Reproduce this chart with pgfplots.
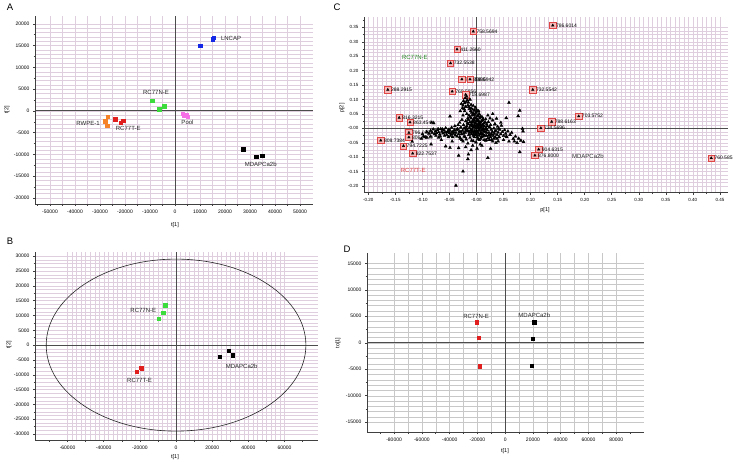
\documentclass[border=0pt]{standalone}
\usepackage{fontspec}
\setmainfont{Liberation Sans}
\usepackage{pgfplots}
\pgfplotsset{compat=1.18}
\usepackage{pgfplotstable}
\definecolor{gridc}{RGB}{222,206,222}
\definecolor{gridd}{RGB}{200,200,200}
\definecolor{cblue}{RGB}{20,40,230}
\definecolor{cgreen}{RGB}{60,220,60}
\definecolor{cred}{RGB}{225,30,30}
\definecolor{corange}{RGB}{245,130,40}
\definecolor{cpink}{RGB}{245,110,230}
\definecolor{boxfill}{RGB}{245,185,185}
\definecolor{boxred}{RGB}{225,70,70}
\definecolor{labgreen}{RGB}{40,140,40}
\definecolor{labred}{RGB}{230,70,70}
\newcommand{\fs}[1]{\fontsize{#1}{#1}\selectfont}
\tikzset{zeroline/.style={black!70, line width=0.9pt}}
\pgfplotsset{
  panel/.style={
    scale only axis, anchor=south west, scaled ticks=false,
    axis x line*=bottom, axis y line*=left,
    axis line style={-, line width=0.8pt, black!75},
    tick align=outside, major tick length=2pt, minor tick length=0pt,
    tick style={black!75, line width=0.5pt},
    grid=both,
    major grid style={gridc, line width=0.35pt},
    minor grid style={gridc, line width=0.35pt},
    ticklabel style={font=\fs{5}},
    /pgf/number format/assume math mode=true,
    extra tick style={grid=none, major tick length=1.5pt},
    extra x tick labels={}, extra y tick labels={},
  },
  sq/.style={only marks, mark=square*, mark size=1.7pt},
}
\pgfplotstableread{
x y lab
0.141 0.357 786.6014
-0.006 0.336 758.5694
-0.036 0.274 411.2660
-0.048 0.226 732.5538
-0.027 0.170 782.5696
-0.012 0.170 808.5942
-0.164 0.134 288.2915
-0.045 0.128 760.5856
-0.020 0.117 718.6987
0.104 0.134 732.5542
0.189 0.042 703.5752
0.139 0.023 788.6163
0.119 0.001 734.5696
0.115 -0.073 904.6315
0.108 -0.094 876.8000
0.434 -0.103 760.5851
-0.143 0.037 816.3215
-0.123 0.021 863.4544
-0.125 -0.015 796.0388
-0.125 -0.031 806.7399
-0.177 -0.042 808.7384
-0.135 -0.061 794.7225
-0.118 -0.087 822.7537
}\Clab
\begin{document}
\begin{tikzpicture}
% ---------------- Panel A ----------------
\begin{axis}[panel, at={(35pt,-204pt)}, width=278pt, height=188pt,
  xmin=-56000, xmax=55200, ymin=-21400, ymax=21800,
  xtick={-50000,-40000,...,50000},
  xticklabels={-50000,-40000,-30000,-20000,-10000,0,10000,20000,30000,40000,50000},
  ytick={-20000,-15000,...,20000},
  yticklabels={-20000,-15000,-10000,-5000,0,5000,10000,15000,20000},
  minor x tick num=1, minor y tick num=4,
  extra x ticks={-55000,-45000,-35000,-25000,-15000,-5000,5000,15000,25000,35000,45000},
  extra y ticks={-17500,-12500,-7500,-2500,2500,7500,12500,17500},
]
\draw[zeroline] (axis cs:0,-21400) -- (axis cs:0,21800);
\draw[zeroline] (axis cs:-56000,0) -- (axis cs:55200,0);
\addplot[sq, cblue] coordinates {(10000,15000) (15100,16450) (15400,16850)};
\addplot[sq, cgreen] coordinates {(-9200,2400) (-6300,400) (-4400,1100)};
\addplot[sq, cred] coordinates {(-24000,-1950) (-21700,-2700) (-20800,-2250)};
\addplot[sq, corange] coordinates {(-26900,-1350) (-27900,-2400) (-27100,-3350)};
\addplot[sq, cpink] coordinates {(3100,-600) (3700,-950) (4400,-900) (5000,-1300)};
\addplot[sq, black] coordinates {(27300,-8800) (32400,-10500) (34900,-10300)};
\node[font=\fs{6}, anchor=west, black!85] at (axis cs:17000,16700) {LNCAP};
\node[font=\fs{6}, black!85] at (axis cs:-7600,4200) {RC77N-E};
\node[font=\fs{6}, black!85] at (axis cs:-34800,-2850) {RWPE-1};
\node[font=\fs{6}, black!85] at (axis cs:-18700,-4000) {RC77T-E};
\node[font=\fs{6}, black!85] at (axis cs:5000,-2600) {Pool};
\node[font=\fs{6}, black!85] at (axis cs:34300,-12400) {MDAPCa2b};
\end{axis}
\node[font=\fs{5.5}] at (175pt,-225pt) {t[1]};
\node[font=\fs{5.5}, rotate=90] at (7pt,-110pt) {t[2]};
\node[font=\fs{9.5}] at (10pt,-7pt) {A};

% ---------------- Panel C ----------------
\begin{axis}[panel, at={(364pt,-192.7pt)}, width=364pt, height=175.4pt,
  xmin=-0.208, xmax=0.465, ymin=-0.223, ymax=0.385, clip=false,
  xtick={-0.20,-0.15,...,0.46},
  xticklabels={-0.20,-0.15,-0.10,-0.05,-0.00,0.05,0.10,0.15,0.20,0.25,0.30,0.35,0.40,0.45},
  ytick={-0.20,-0.15,...,0.36},
  yticklabels={-0.20,-0.15,-0.10,-0.05,-0.00,0.05,0.10,0.15,0.20,0.25,0.30,0.35},
  ticklabel style={font=\fs{4.5}},
  minor x tick num=5, minor y tick num=3,
  extra x ticks={-0.175,-0.125,-0.075,-0.025,0.025,0.075,0.125,0.175,0.225,0.275,0.325,0.375,0.425},
  extra y ticks={-0.175,-0.125,-0.075,-0.025,0.025,0.075,0.125,0.175,0.225,0.275,0.325,0.375},
]
\draw[zeroline] (axis cs:0,-0.223) -- (axis cs:0,0.385);
\draw[zeroline] (axis cs:-0.208,0) -- (axis cs:0.465,0);
\addplot[only marks, mark=square*, mark size=3.2pt,
  mark options={fill=boxfill, draw=boxred, line width=0.5pt},
  nodes near coords, point meta=explicit symbolic,
  nodes near coords style={anchor=west, font=\fs{5}, xshift=3pt, inner sep=0pt, black}]
  table[x=x, y=y, meta=lab] {\Clab};
\addplot[only marks, mark=triangle*, mark size=1.4pt, black] table[x=x, y=y] {\Clab};
\addplot[only marks, mark=triangle*, mark size=1.7pt, black] coordinates {
(-0.092,-0.012) (-0.088,-0.018) (-0.085,-0.008) (-0.082,-0.015) (-0.080,-0.003) (-0.078,-0.020)
(-0.076,-0.010) (-0.074,-0.016) (-0.072,-0.006) (-0.070,-0.013) (-0.068,-0.021) (-0.066,-0.002)
(-0.064,-0.011) (-0.062,-0.017) (-0.060,-0.007) (-0.058,-0.014) (-0.057,0.001) (-0.055,-0.022)
(-0.053,-0.009) (-0.051,-0.004) (-0.050,-0.016) (-0.048,-0.026) (-0.046,0.003) (-0.045,-0.012)
(-0.043,-0.019) (-0.041,-0.006) (-0.040,0.008) (-0.038,-0.015) (-0.036,-0.028) (-0.035,-0.002)
(-0.034,0.012) (-0.032,-0.010) (-0.031,0.020) (-0.030,-0.035) (-0.029,0.004) (-0.028,-0.020)
(-0.027,0.030) (-0.026,-0.008) (-0.025,0.045) (-0.025,-0.045) (-0.024,0.012) (-0.023,-0.028)
(-0.022,0.060) (-0.022,0.000) (-0.021,-0.015) (-0.020,0.025) (-0.020,0.075) (-0.019,-0.038)
(-0.018,0.008) (-0.018,0.050) (-0.017,-0.005) (-0.016,0.035) (-0.016,-0.052) (-0.015,0.090)
(-0.015,0.015) (-0.014,-0.022) (-0.013,0.068) (-0.013,0.002) (-0.012,0.040) (-0.012,-0.032)
(-0.011,0.010) (-0.010,0.082) (-0.010,-0.012) (-0.009,0.055) (-0.009,-0.042) (-0.008,0.022)
(-0.008,-0.003) (-0.007,0.065) (-0.007,-0.060) (-0.006,0.030) (-0.006,0.005) (-0.005,-0.018)
(-0.005,0.048) (-0.004,0.012) (-0.004,-0.030) (-0.003,0.038) (-0.003,-0.008) (-0.002,0.072)
(-0.002,0.018) (-0.001,-0.048) (-0.001,0.000) (0.000,0.028) (0.000,-0.022) (0.001,0.058)
(0.001,0.008) (0.002,-0.012) (0.002,0.042) (0.003,-0.036) (0.003,0.015) (0.004,0.002)
(0.004,0.025) (0.005,-0.025) (0.005,0.050) (0.006,-0.005) (0.006,0.035) (0.007,0.010)
(0.007,-0.055) (0.008,-0.015) (0.008,0.020) (0.009,0.003) (0.009,-0.030) (0.010,0.040)
(0.010,-0.008) (0.011,0.012) (0.012,-0.020) (0.012,0.028) (0.013,-0.002) (0.014,-0.040)
(0.014,0.018) (0.015,0.006) (0.016,-0.012) (0.017,0.032) (0.018,-0.025) (0.018,0.000)
(0.019,0.014) (0.020,-0.006) (0.021,-0.034) (0.022,0.022) (0.023,-0.015) (0.024,0.005)
(0.025,-0.022) (0.026,0.012) (0.027,-0.004) (0.028,-0.040) (0.029,-0.012) (0.030,0.028)
(0.031,-0.026) (0.032,0.000) (0.033,-0.018) (0.034,0.015) (0.035,-0.032) (0.036,-0.008)
(0.038,-0.022) (0.039,0.006) (0.040,-0.014) (0.042,-0.030) (0.043,-0.004) (0.045,-0.020)
(0.046,0.010) (0.048,-0.012) (0.050,-0.026) (0.052,-0.006) (0.054,-0.018) (0.056,-0.030)
(0.058,-0.010) (0.062,-0.022)
(-0.028,0.085) (-0.024,0.095) (-0.021,0.105) (-0.018,0.110) (-0.017,0.098) (-0.012,0.100)
(-0.026,0.070) (-0.030,0.060)
(-0.084,-0.055) (-0.119,-0.046) (-0.085,-0.028) (-0.079,0.018) (-0.057,-0.062) (-0.049,-0.067)
(-0.033,-0.068) (-0.065,-0.040) (-0.095,-0.030) (-0.070,-0.032) (-0.100,-0.020) (-0.098,-0.028)
(-0.092,-0.032) (-0.102,-0.035)
(-0.038,-0.198) (-0.025,-0.149) (-0.033,-0.094) (-0.015,-0.090) (-0.016,-0.106) (0.001,-0.070)
(0.021,-0.102) (0.026,-0.070) (0.017,-0.042) (-0.006,-0.044) (-0.045,-0.045) (-0.010,-0.075)
(0.010,-0.060) (-0.020,-0.065)
(0.060,0.089) (0.080,0.062) (0.077,0.043) (0.055,0.036) (0.085,-0.001) (0.086,-0.010)
(0.082,-0.042) (0.087,-0.047) (0.080,-0.082) (0.068,-0.036) (0.055,-0.028) (0.041,-0.001)
(0.037,0.034) (0.021,0.045) (0.034,0.014) (-0.049,0.042) (-0.083,0.020) (0.030,0.050)
(0.025,0.035) (0.045,0.020) (0.070,-0.045) (0.075,-0.050) (0.060,-0.045) (0.050,-0.040)
(0.065,-0.015) (0.072,-0.028) (0.078,-0.035)
(-0.019,0.002) (-0.017,0.018) (-0.016,-0.010) (-0.015,0.030) (-0.014,0.045) (-0.013,-0.015)
(-0.012,0.022) (-0.011,0.060) (-0.011,-0.006) (-0.010,0.035) (-0.009,0.015) (-0.009,-0.020)
(-0.008,0.045) (-0.008,0.008) (-0.007,-0.010) (-0.007,0.025) (-0.006,0.052) (-0.006,-0.025)
(-0.005,0.004) (-0.005,0.032) (-0.004,0.062) (-0.004,-0.012) (-0.003,0.020) (-0.003,0.048)
(-0.002,-0.020) (-0.002,0.006) (-0.001,0.035) (-0.001,0.055) (0.000,0.012) (0.000,-0.010)
(0.001,0.025) (0.001,-0.030) (0.002,0.000) (0.002,0.030) (0.003,-0.018) (0.003,0.045)
(0.004,0.010) (0.004,-0.008) (0.005,0.020) (0.005,-0.040) (0.006,0.015) (0.007,-0.020)
(0.007,0.040) (0.008,0.005) (0.008,-0.035) (0.009,0.025) (0.010,-0.018) (0.010,0.010)
(0.011,-0.004) (0.012,0.034) (0.012,-0.028) (0.013,0.010) (0.014,-0.010) (0.015,-0.025)
(0.016,0.022) (0.017,-0.002) (0.018,-0.040) (0.019,-0.015) (0.020,0.008) (0.022,-0.025)
(-0.075,-0.025) (-0.071,-0.002) (-0.067,-0.028) (-0.063,-0.003) (-0.059,-0.025) (-0.054,-0.013)
(-0.052,-0.030) (-0.049,-0.008) (-0.047,-0.020) (-0.044,-0.030) (-0.042,-0.013) (-0.039,-0.024)
(-0.037,-0.005) (-0.033,-0.020) (-0.031,-0.030) (-0.029,-0.012) (-0.027,-0.040) (-0.024,-0.018)
(-0.023,0.000) (-0.021,-0.030) (-0.020,-0.008)
(0.024,-0.040) (0.026,-0.030) (0.028,-0.020) (0.030,-0.045) (0.032,-0.035) (0.034,-0.010)
(0.036,-0.050) (0.038,-0.035) (0.040,-0.045)
(-0.025,0.080) (-0.022,0.088) (-0.019,0.092) (-0.016,0.080) (-0.014,0.075) (-0.010,0.070)
(-0.006,0.078) (-0.023,0.068) (0.000,0.065) (0.004,0.060)
};
\node[font=\fs{6}, labgreen] at (axis cs:-0.114,0.245) {RC77N-E};
\node[font=\fs{6}, labred] at (axis cs:-0.117,-0.146) {RC77T-E};
\node[font=\fs{6}, black!80] at (axis cs:0.206,-0.097) {MDAPCa2b};
\end{axis}
\node[font=\fs{5.5}] at (545pt,-210pt) {p[1]};
\node[font=\fs{5.5}, rotate=90] at (342pt,-108pt) {p[2]};
\node[font=\fs{9.5}] at (337pt,-7pt) {C};

% ---------------- Panel B ----------------
\begin{axis}[panel, at={(35pt,-440pt)}, width=283pt, height=188.3pt,
  xmin=-78000, xmax=78500, ymin=-32000, ymax=31500,
  xtick={-60000,-40000,...,60000},
  xticklabels={-60000,-40000,-20000,0,20000,40000,60000},
  ytick={-30000,-25000,...,30000},
  yticklabels={-30000,-25000,-20000,-15000,-10000,-5000,0,5000,10000,15000,20000,25000,30000},
  minor x tick num=7, minor y tick num=3,
  extra x ticks={-70000,-50000,-30000,-10000,10000,30000,50000,70000},
  extra y ticks={-27500,-22500,-17500,-12500,-7500,-2500,2500,7500,12500,17500,22500,27500},
]
\draw[zeroline] (axis cs:0,-32000) -- (axis cs:0,31500);
\draw[zeroline] (axis cs:-78000,0) -- (axis cs:78500,0);
\draw[black!85, line width=0.6pt] (axis cs:0,0) ellipse [x radius=71800, y radius=29000];
\addplot[sq, cgreen] coordinates {(-6100,13500) (-7200,11000) (-9600,8900)};
\addplot[sq, cred] coordinates {(-21700,-9000) (-19600,-7700) (-18900,-7800)};
\addplot[sq, black] coordinates {(24300,-3900) (29100,-1900) (31300,-3400)};
\node[font=\fs{6}, black!85] at (axis cs:-18100,11800) {RC77N-E};
\node[font=\fs{6}, black!85] at (axis cs:-20200,-11800) {RC77T-E};
\node[font=\fs{6}, black!85] at (axis cs:36300,-7100) {MDAPCa2b};
\end{axis}
\node[font=\fs{5.5}] at (175pt,-457pt) {t[1]};
\node[font=\fs{5.5}, rotate=90] at (9pt,-345pt) {t[2]};
\node[font=\fs{9.5}] at (10pt,-241pt) {B};

% ---------------- Panel D ----------------
\begin{axis}[panel, at={(367pt,-432.3pt)}, width=277pt, height=179.6pt,
  xmin=-99500, xmax=100000, ymin=-16900, ymax=17000,
  major grid style={gridd, line width=0.4pt},
  minor grid style={gridd, line width=0.4pt},
  xtick={-80000,-60000,...,80000},
  xticklabels={-80000,-60000,-40000,-20000,0,20000,40000,60000,80000},
  ytick={-15000,-10000,...,15000},
  yticklabels={-15000,-10000,-5000,0,5000,10000,15000},
  minor x tick num=1, minor y tick num=4,
  extra x ticks={-90000,-70000,-50000,-30000,-10000,10000,30000,50000,70000,90000},
  extra y ticks={-12500,-7500,-2500,2500,7500,12500},
]
\draw[zeroline] (axis cs:0,-16900) -- (axis cs:0,17000);
\draw[zeroline] (axis cs:-99500,0) -- (axis cs:100000,0);
\addplot[sq, cred] coordinates {(-20400,3900) (-19200,1000) (-18500,-4400)};
\addplot[sq, black] coordinates {(20900,3900) (19900,800) (18900,-4300)};
\node[font=\fs{6}, black!85] at (axis cs:-20900,5000) {RC77N-E};
\node[font=\fs{6}, black!85] at (axis cs:21000,5200) {MDAPCa2b};
\end{axis}
\node[font=\fs{5.5}] at (505pt,-451.5pt) {t[1]};
\node[font=\fs{5.5}, rotate=90] at (338pt,-343pt) {to[1]};
\node[font=\fs{9.5}] at (347pt,-249pt) {D};

\pgfresetboundingbox
\path[use as bounding box] (0pt,0pt) rectangle (733pt,-463pt);
\end{tikzpicture}
\end{document}
